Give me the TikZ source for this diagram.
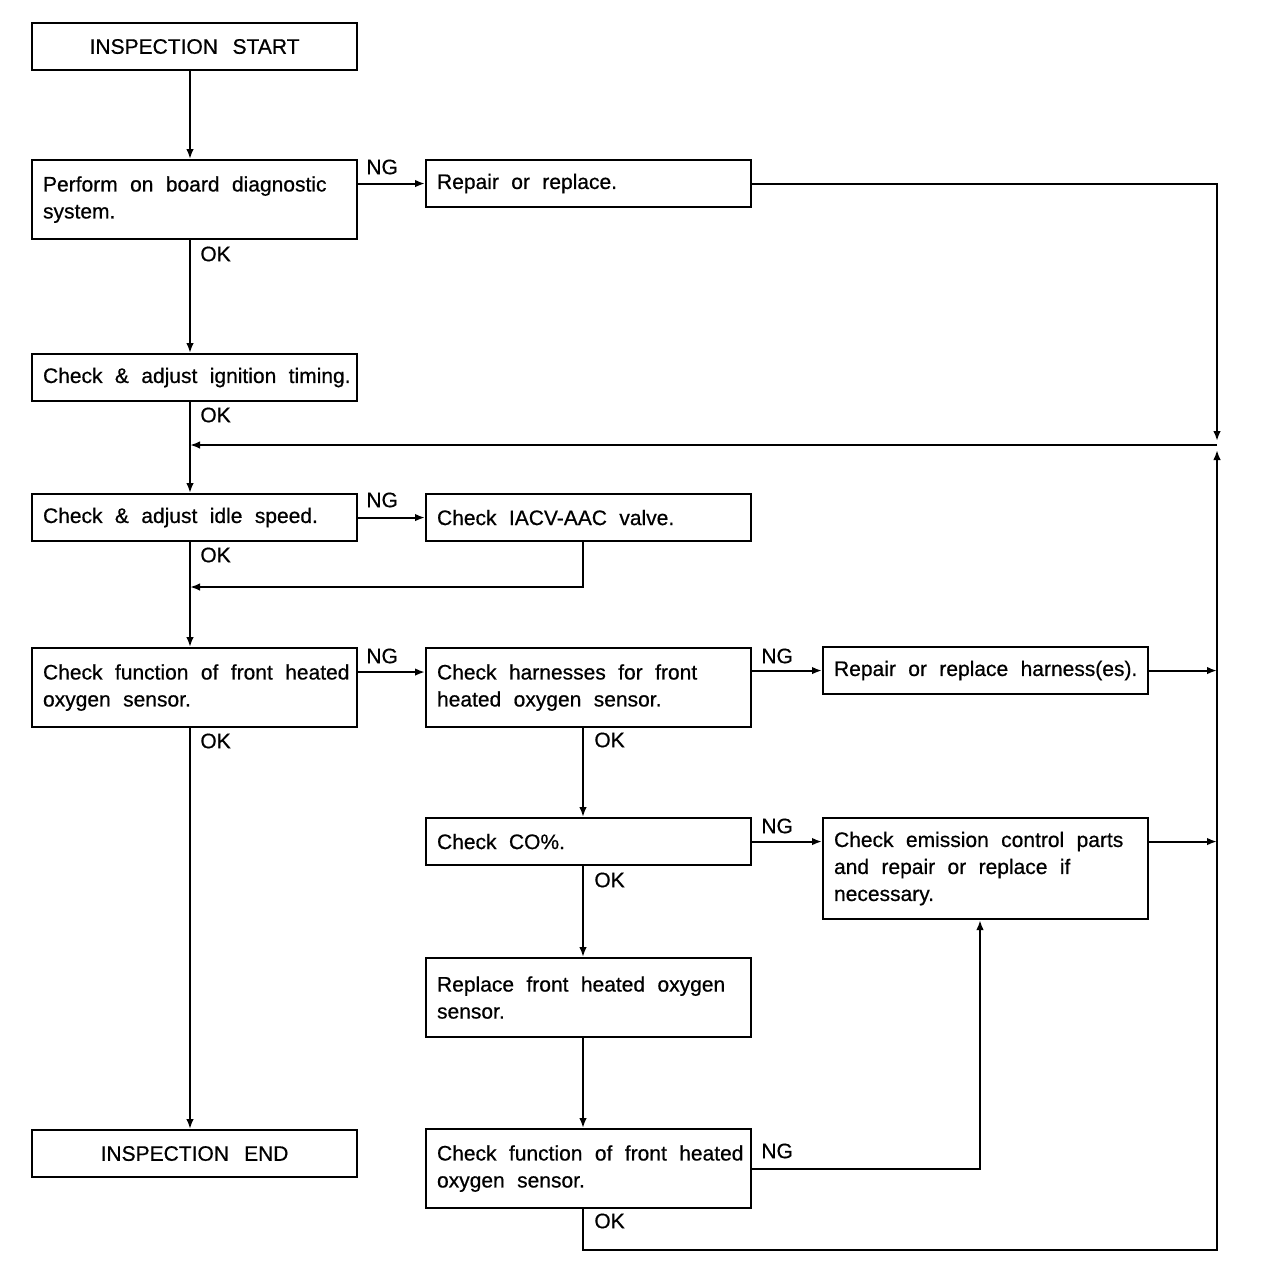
\documentclass[tikz,border=0pt]{standalone}
\usepackage{fontspec}
\setmainfont{Liberation Sans}[FakeBold=0.6]
\usetikzlibrary{arrows.meta}
\newcommand{\nbx}[1]{\mbox{#1}}
\newcommand{\diagfont}{\fontsize{10.5}{13.5}\selectfont}
\begin{document}
\begin{tikzpicture}[x=0.5pt,y=-0.5pt,
  every node/.style={font=\diagfont, execute at begin node={\spaceskip=6.2pt plus 1pt minus 1pt\relax}},
  stepbox/.style={draw, line width=1.05pt, rectangle, anchor=north west, inner xsep=5.5pt,
    inner ysep=0pt, text width=151.5pt, align=left, minimum width=162.5pt},
  endbox/.style={stepbox, align=center},
  hone/.style={minimum height=23.5pt},
  htwo/.style={minimum height=39.5pt},
  hthree/.style={minimum height=50.5pt},
  lbl/.style={inner sep=0pt, anchor=west},
  conn/.style={line width=1.05pt},
  arr/.style={conn, -{Latex[length=5pt,width=3.8pt]}}]
\useasboundingbox (0,0) rectangle (1264,1284);
\coordinate (colL) at (190,0);
\coordinate (colM) at (583,0);
\coordinate (colR) at (1217,0);
\coordinate (jtop) at (1217,441);
\coordinate (jmid) at (1217,445);
\coordinate (jbot) at (1217,450);
\coordinate (jiac) at (190,587);
\coordinate (bcorner) at (1217,1250);
\coordinate (colE) at (980,0);

% boxes
\node[endbox,hone] (start) at (31,22) {INSPECTION START};
\node[stepbox,htwo] (perform) at (31,159) {\nbx{Perform on board diagnostic}\\system.};
\node[stepbox,hone] (repair) at (425,159) {Repair or replace.};
\node[stepbox,hone] (ign) at (31,353) {\nbx{Check \& adjust ignition timing.}};
\node[stepbox,hone] (idle) at (31,493) {Check \& adjust idle speed.};
\node[stepbox,hone] (iacv) at (425,493) {Check IACV-AAC valve.};
\node[stepbox,htwo] (chk1) at (31,647) {\nbx{Check function of front heated}\\oxygen sensor.};
\node[stepbox,htwo] (harn) at (425,647) {\nbx{Check harnesses for front}\\heated oxygen sensor.};
\node[stepbox,hone] (rh) at (822,646) {\nbx{Repair or replace harness(es).}};
\node[stepbox,hone] (co) at (425,817) {Check CO\%.};
\node[stepbox,hthree] (em) at (822,817) {\nbx{Check emission control parts}\\and repair or replace if\\necessary.};
\node[stepbox,htwo] (rep) at (425,957) {\nbx{Replace front heated oxygen}\\sensor.};
\node[endbox,hone] (end) at (31,1129) {INSPECTION END};
\node[stepbox,htwo] (chk2) at (425,1128) {\nbx{Check function of front heated}\\oxygen sensor.};

% labels
\node[lbl] (ng1) at (366,167) {NG};
\node[lbl] (ng2) at (366,500) {NG};
\node[lbl] (ng3) at (366,656) {NG};
\node[lbl] (ng4) at (761,656) {NG};
\node[lbl] (ng5) at (761,826) {NG};
\node[lbl] (ng6) at (761,1151) {NG};
\node[lbl] (ok1) at (200,254) {OK};
\node[lbl] (ok2) at (200,415) {OK};
\node[lbl] (ok3) at (200,555) {OK};
\node[lbl] (ok4) at (200,741) {OK};
\node[lbl] (ok5) at (594,740) {OK};
\node[lbl] (ok6) at (594,880) {OK};
\node[lbl] (ok7) at (594,1221) {OK};

% connectors
\draw[arr] (start.south -| colL) -- (perform.north -| colL);
\draw[arr] (perform.east |- repair.west) -- (repair.west);
\draw[arr] (repair.east) -| (jtop);
\draw[arr] (jmid) -- (jmid -| colL);
\draw[arr] (perform.south -| colL) -- (ign.north -| colL);
\draw[arr] (ign.south -| colL) -- (idle.north -| colL);
\draw[arr] (idle.east |- iacv.west) -- (iacv.west);
\draw[arr] (iacv.south -| colM) |- (jiac);
\draw[arr] (idle.south -| colL) -- (chk1.north -| colL);
\draw[arr] ([yshift=7.75pt]chk1.east) -- ([yshift=7.75pt]chk1.east -| harn.west);
\draw[arr] (harn.east |- rh.west) -- (rh.west);
\draw[arr] (rh.east) -- (rh.east -| colR);
\draw[arr] (chk1.south -| colL) -- (end.north -| colL);
\draw[arr] (harn.south -| colM) -- (co.north -| colM);
\draw[arr] (co.east) -- (co.east -| em.west);
\draw[arr] (em.east |- co.east) -- (colR |- co.east);
\draw[arr] (co.south -| colM) -- (rep.north -| colM);
\draw[arr] (rep.south -| colM) -- (chk2.north -| colM);
\draw[arr] (chk2.east) -| (em.south -| colE);
\draw[arr] (chk2.south -| colM) |- (bcorner) -- (jbot);
\end{tikzpicture}
\end{document}
